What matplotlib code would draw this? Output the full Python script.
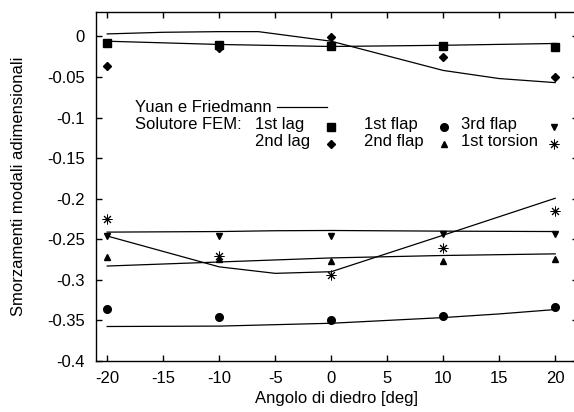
import matplotlib
matplotlib.use("Agg")
import matplotlib.pyplot as plt
from matplotlib.ticker import FuncFormatter, MultipleLocator

plt.rcParams['font.family'] = ['Liberation Sans', 'DejaVu Sans']
plt.rcParams['font.size'] = 12

# Dihedral angles of the FEM solutions
angles = [-20, -10, 0, 10, 20]

# FEM modal damping per mode
lag1 = [-0.008, -0.011, -0.012, -0.012, -0.013]
lag2 = [-0.036, -0.014, -0.001, -0.026, -0.050]
flap1 = [-0.336, -0.346, -0.349, -0.344, -0.333]
flap2 = [-0.272, -0.2745, -0.2765, -0.2765, -0.2745]
flap3 = [-0.246, -0.246, -0.246, -0.244, -0.244]
torsion1 = [-0.2255, -0.271, -0.294, -0.261, -0.215]

# Reference curves (Yuan & Friedmann)
yf_lag2_x = [-20, -15, -10, -6.5, 0, 10, 15, 20]
yf_lag2_y = [0.003, 0.005, 0.0058, 0.0058, -0.006, -0.042, -0.052, -0.057]
yf_lag1_x = [-20, -10, 0, 10, 20]
yf_lag1_y = [-0.006, -0.010, -0.0125, -0.011, -0.0088]
yf_flap3_x = [-20, -10, -5, 0, 10, 20]
yf_flap3_y = [-0.2412, -0.2405, -0.2395, -0.2392, -0.2400, -0.2405]
yf_tors_x = [-20, -10, -5, 0, 10, 20]
yf_tors_y = [-0.246, -0.284, -0.292, -0.290, -0.245, -0.1995]
yf_flap2_x = [-20, -10, 0, 10, 20]
yf_flap2_y = [-0.283, -0.278, -0.273, -0.270, -0.268]
yf_flap1_x = [-20, -10, 0, 10, 15, 20]
yf_flap1_y = [-0.3575, -0.357, -0.3535, -0.3465, -0.342, -0.3366]

fig = plt.figure(figsize=(5.74, 4.12), dpi=100)
ax = fig.add_axes([96 / 574, 51 / 412, 481.6 / 574, 349 / 412])

lw = 0.9
for xs, ys in [(yf_lag2_x, yf_lag2_y), (yf_lag1_x, yf_lag1_y),
               (yf_flap3_x, yf_flap3_y), (yf_tors_x, yf_tors_y),
               (yf_flap2_x, yf_flap2_y), (yf_flap1_x, yf_flap1_y)]:
    ax.plot(xs, ys, color='black', lw=lw)

asterisk = (8, 2, 0)
styles = {
    'lag1': dict(marker='s', ms=5.8),
    'lag2': dict(marker='D', ms=3.6),
    'flap1': dict(marker='o', ms=5.5),
    'flap2': dict(marker='^', ms=5),
    'flap3': dict(marker='v', ms=5),
    'torsion1': dict(marker=asterisk, ms=7, mew=0.7),
}
series = {'lag1': lag1, 'lag2': lag2, 'flap1': flap1,
          'flap2': flap2, 'flap3': flap3, 'torsion1': torsion1}
for key, vals in series.items():
    ax.plot(angles, vals, ls='none', color='black', mfc='black', mec='black',
            **styles[key])

ax.set_xlim(-21, 22)
ax.set_ylim(-0.4, 0.03)
ax.xaxis.set_major_locator(MultipleLocator(5))
ax.yaxis.set_major_locator(MultipleLocator(0.05))
fmt = FuncFormatter(lambda v, p: '%g' % round(v, 4) if abs(v) > 1e-9 else '0')
ax.yaxis.set_major_formatter(fmt)
ax.xaxis.set_major_formatter(FuncFormatter(lambda v, p: '%g' % v))
ax.tick_params(direction='in', length=4, width=1.0, top=True, right=True,
               labelsize=12)
ax.tick_params(axis='y', pad=8)
ax.tick_params(axis='x', pad=7)
for s in ax.spines.values():
    s.set_linewidth(1.0)

ax.set_xlabel('Angolo di diedro [deg]', fontsize=12, labelpad=4)
ax.set_ylabel('Smorzamenti modali adimensionali', fontsize=12, labelpad=15)

# Key, laid out in axes fraction
T = ax.transAxes
ax.text(0.081, 0.727, 'Yuan e Friedmann', transform=T, va='center', ha='left')
ax.plot([0.375, 0.480], [0.7287, 0.7287], transform=T, color='black', lw=lw)
ax.text(0.081, 0.678, 'Solutore FEM:', transform=T, va='center', ha='left')

key_rows = [
    [('1st lag', 'lag1'), ('1st flap', 'flap1'), ('3rd flap', 'flap3')],
    [('2nd lag', 'lag2'), ('2nd flap', 'flap2'), ('1st torsion', 'torsion1')],
]
text_x = [0.330, 0.5565, 0.758]
mark_x = [0.487, 0.7226, 0.952]
row_y = [0.678, 0.628]
mark_dy = -0.007
for r, row in enumerate(key_rows):
    for c, (label, key) in enumerate(row):
        ax.text(text_x[c], row_y[r], label, transform=T, va='center', ha='left')
        ax.plot([mark_x[c]], [row_y[r] + mark_dy], transform=T, ls='none',
                color='black', mfc='black', mec='black', **styles[key])

fig.savefig('out.png', dpi=100)
